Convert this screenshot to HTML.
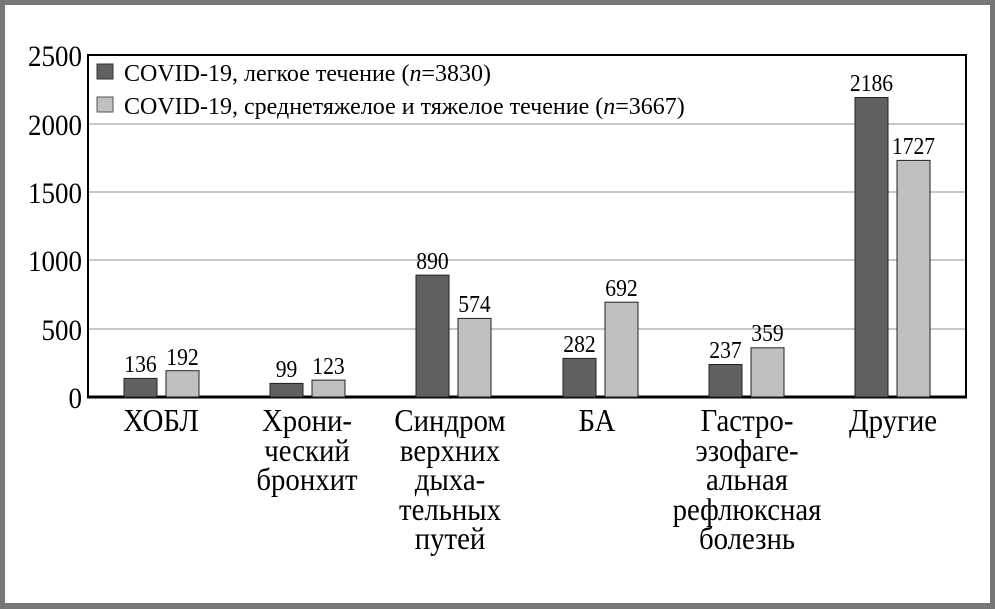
<!DOCTYPE html>
<html><head><meta charset="utf-8"><style>
html,body{margin:0;padding:0;background:#fff}
svg{display:block}
text{font-family:"Liberation Serif",serif;fill:#000}
</style></head><body>
<svg width="995" height="609" viewBox="0 0 995 609" xmlns="http://www.w3.org/2000/svg">
<rect x="0" y="0" width="995" height="609" fill="#777"/>
<rect x="5" y="5" width="985" height="598" fill="#fff"/>
<g stroke="#c8c8c8" stroke-width="2">
<line x1="88" y1="124" x2="966" y2="124"/>
<line x1="88" y1="192" x2="966" y2="192"/>
<line x1="88" y1="260" x2="966" y2="260"/>
<line x1="88" y1="329" x2="966" y2="329"/>
</g>
<rect x="88" y="55" width="878" height="342" fill="none" stroke="#000" stroke-width="2"/>
<line x1="87" y1="397" x2="967" y2="397" stroke="#000" stroke-width="3"/>
<g font-size="30" text-anchor="end">
<text transform="translate(82,66) scale(0.9,1)">2500</text>
<text transform="translate(82,135) scale(0.9,1)">2000</text>
<text transform="translate(82,203) scale(0.9,1)">1500</text>
<text transform="translate(82,271) scale(0.9,1)">1000</text>
<text transform="translate(82,340) scale(0.9,1)">500</text>
<text transform="translate(82,408) scale(0.9,1)">0</text>
</g>
<rect x="89" y="56" width="612" height="67" fill="#fff"/>
<rect x="97" y="64" width="16" height="15" fill="#606060" stroke="#333" stroke-width="1"/>
<rect x="97" y="97" width="16" height="15" fill="#c0c0c0" stroke="#555" stroke-width="1"/>
<text transform="translate(124,81) scale(1.0,1)" font-size="24">COVID-19, легкое течение (<tspan font-style="italic">n</tspan>=3830)</text>
<text transform="translate(124,114) scale(1.0,1)" font-size="24">COVID-19, среднетяжелое и тяжелое течение (<tspan font-style="italic">n</tspan>=3667)</text>
<g stroke="#222" stroke-width="1">
<rect x="124" y="378.4" width="33" height="18.6" fill="#606060"/>
<rect x="166" y="370.7" width="33" height="26.3" fill="#c0c0c0"/>
<rect x="270" y="383.4" width="33" height="13.6" fill="#606060"/>
<rect x="312" y="380.1" width="33" height="16.9" fill="#c0c0c0"/>
<rect x="416" y="275.1" width="33" height="121.9" fill="#606060"/>
<rect x="458" y="318.4" width="33" height="78.6" fill="#c0c0c0"/>
<rect x="563" y="358.4" width="33" height="38.6" fill="#606060"/>
<rect x="605" y="302.2" width="33" height="94.8" fill="#c0c0c0"/>
<rect x="709" y="364.5" width="33" height="32.5" fill="#606060"/>
<rect x="751" y="347.8" width="33" height="49.2" fill="#c0c0c0"/>
<rect x="855" y="97.5" width="33" height="299.5" fill="#606060"/>
<rect x="897" y="160.4" width="33" height="236.6" fill="#c0c0c0"/>
</g>
<g font-size="24" text-anchor="middle">
<text transform="translate(140.5,372) scale(0.9,1)">136</text>
<text transform="translate(182.5,365) scale(0.9,1)">192</text>
<text transform="translate(286.5,377) scale(0.9,1)">99</text>
<text transform="translate(328.5,374) scale(0.9,1)">123</text>
<text transform="translate(432.5,269) scale(0.9,1)">890</text>
<text transform="translate(474.5,312) scale(0.9,1)">574</text>
<text transform="translate(579.5,352) scale(0.9,1)">282</text>
<text transform="translate(621.5,296) scale(0.9,1)">692</text>
<text transform="translate(725.5,358) scale(0.9,1)">237</text>
<text transform="translate(767.5,341) scale(0.9,1)">359</text>
<text transform="translate(871.5,91) scale(0.9,1)">2186</text>
<text transform="translate(913.5,154) scale(0.9,1)">1727</text>
</g>
<g font-size="32" text-anchor="middle">
<text transform="translate(161,431) scale(0.9,1)">ХОБЛ</text>
<text transform="translate(307,431) scale(0.9,1)">Хрони-</text>
<text transform="translate(307,461) scale(0.9,1)">ческий</text>
<text transform="translate(307,490) scale(0.9,1)">бронхит</text>
<text transform="translate(450,431) scale(0.9,1)">Синдром</text>
<text transform="translate(450,461) scale(0.9,1)">верхних</text>
<text transform="translate(450,490) scale(0.9,1)">дыха-</text>
<text transform="translate(450,520) scale(0.9,1)">тельных</text>
<text transform="translate(450,549) scale(0.9,1)">путей</text>
<text transform="translate(597,431) scale(0.9,1)">БА</text>
<text transform="translate(747,431) scale(0.9,1)">Гастро-</text>
<text transform="translate(747,461) scale(0.9,1)">эзофаге-</text>
<text transform="translate(747,490) scale(0.9,1)">альная</text>
<text transform="translate(747,520) scale(0.9,1)">рефлюксная</text>
<text transform="translate(747,549) scale(0.9,1)">болезнь</text>
<text transform="translate(893,431) scale(0.9,1)">Другие</text>
</g>
</svg>
</body></html>
